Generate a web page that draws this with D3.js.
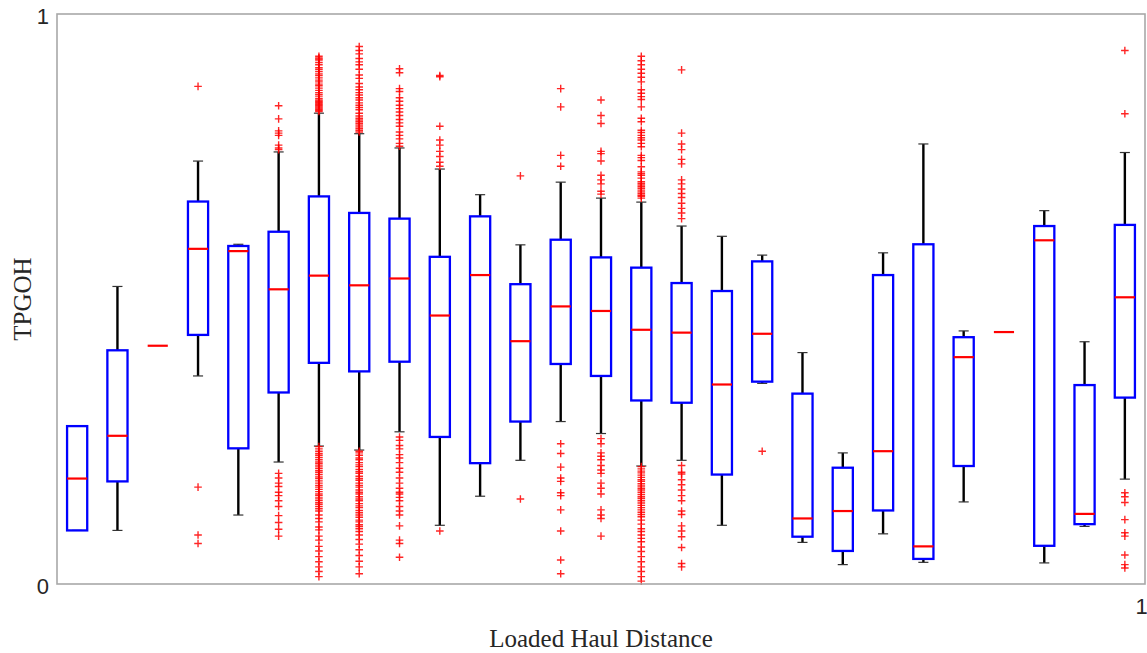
<!DOCTYPE html>
<html>
<head>
<meta charset="utf-8">
<script src="https://cdn.jsdelivr.net/npm/d3@7"></script>
<style>
  html, body { margin: 0; padding: 0; background: #fff; }
  svg { display: block; }
</style>
</head>
<body>
<svg id="chart" width="1147" height="653"></svg>
<script>
// Box plot of TPGOH by loaded haul distance group (27 groups)
const groups = d3.range(1, 28);

const lowerWhisker = [0.094, 0.094, 0.418, 0.365, 0.121, 0.214, 0.242, 0.235, 0.267, 0.103, 0.154, 0.217, 0.285, 0.264,
                      0.207, 0.217, 0.103, 0.352, 0.073, 0.034, 0.088, 0.038, 0.144, 0.442, 0.037, 0.101, 0.184];
const q1 = [0.094, 0.180, 0.418, 0.437, 0.238, 0.336, 0.388, 0.373, 0.390, 0.258, 0.212, 0.285, 0.386, 0.365,
            0.322, 0.318, 0.192, 0.355, 0.083, 0.058, 0.129, 0.044, 0.207, 0.442, 0.067, 0.105, 0.327];
const median = [0.185, 0.260, 0.418, 0.588, 0.584, 0.517, 0.541, 0.524, 0.536, 0.471, 0.542, 0.426, 0.487, 0.479,
                0.446, 0.441, 0.350, 0.439, 0.115, 0.128, 0.233, 0.066, 0.398, 0.442, 0.603, 0.123, 0.503];
const q3 = [0.277, 0.410, 0.418, 0.671, 0.593, 0.618, 0.680, 0.651, 0.641, 0.574, 0.645, 0.526, 0.604, 0.573,
            0.555, 0.528, 0.514, 0.566, 0.334, 0.204, 0.542, 0.596, 0.433, 0.442, 0.628, 0.349, 0.630];
const upperWhisker = [0.277, 0.522, 0.418, 0.742, 0.596, 0.758, 0.826, 0.790, 0.765, 0.728, 0.683, 0.595, 0.705, 0.677,
                      0.670, 0.628, 0.610, 0.577, 0.406, 0.230, 0.581, 0.772, 0.444, 0.442, 0.655, 0.425, 0.757];

const outliers = [
  [],
  [],
  [],
  [0.873, 0.170, 0.086, 0.071],
  [],
  [0.839, 0.816, 0.795, 0.791, 0.787, 0.770, 0.765, 0.762,
   0.194, 0.186, 0.177, 0.171, 0.161, 0.155, 0.146, 0.136, 0.120, 0.108, 0.096, 0.084],
  [0.926, 0.923, 0.921, 0.919, 0.915, 0.911, 0.906, 0.903, 0.899, 0.895, 0.892, 0.888, 0.884, 0.881, 0.877, 0.874,
   0.870, 0.866, 0.862, 0.859, 0.856, 0.852, 0.849, 0.847, 0.845, 0.843, 0.841, 0.839, 0.837, 0.835, 0.833, 0.831, 0.829,
   0.241, 0.237, 0.233, 0.229, 0.226, 0.222, 0.218, 0.214, 0.211, 0.207, 0.203, 0.199, 0.196, 0.192, 0.188, 0.185,
   0.181, 0.177, 0.173, 0.170, 0.166, 0.162, 0.158, 0.155, 0.151, 0.147, 0.143, 0.140, 0.136, 0.132, 0.128, 0.121,
   0.115, 0.109, 0.100, 0.095, 0.084, 0.077, 0.066, 0.058, 0.048, 0.039, 0.030, 0.022, 0.013],
  [0.943, 0.936, 0.930, 0.922, 0.916, 0.911, 0.903, 0.893, 0.887, 0.878, 0.872, 0.867, 0.862, 0.858, 0.853, 0.849,
   0.844, 0.840, 0.836, 0.832, 0.826, 0.821, 0.817, 0.814, 0.811, 0.808, 0.805, 0.802, 0.799, 0.796, 0.793,
   0.233, 0.230, 0.226, 0.221, 0.218, 0.213, 0.209, 0.206, 0.201, 0.197, 0.194, 0.189, 0.185, 0.182, 0.177, 0.173,
   0.170, 0.165, 0.161, 0.158, 0.153, 0.149, 0.146, 0.141, 0.137, 0.134, 0.129, 0.125, 0.121, 0.117, 0.112, 0.109,
   0.104, 0.101, 0.097, 0.092, 0.086, 0.078, 0.070, 0.060, 0.050, 0.040, 0.030, 0.018],
  [0.904, 0.897, 0.869, 0.864, 0.853, 0.847, 0.840, 0.834, 0.828, 0.822, 0.815, 0.809, 0.803, 0.793, 0.787, 0.781,
   0.773, 0.768, 0.258, 0.252, 0.243, 0.237, 0.227, 0.221, 0.213, 0.203, 0.196, 0.186, 0.177, 0.168, 0.161, 0.158,
   0.152, 0.146, 0.136, 0.128, 0.121, 0.102, 0.077, 0.071, 0.047],
  [0.892, 0.890, 0.803, 0.779, 0.770, 0.759, 0.750, 0.740, 0.733, 0.093],
  [],
  [0.716, 0.149],
  [0.869, 0.837, 0.752, 0.733, 0.246, 0.229, 0.205, 0.186, 0.180, 0.160, 0.155, 0.130, 0.093, 0.042, 0.018],
  [0.849, 0.822, 0.808, 0.759, 0.755, 0.742, 0.717, 0.709, 0.702, 0.689, 0.684,
   0.255, 0.246, 0.230, 0.224, 0.218, 0.208, 0.200, 0.194, 0.177, 0.168, 0.158, 0.130, 0.121, 0.115, 0.084],
  [0.926, 0.918, 0.911, 0.903, 0.896, 0.889, 0.881, 0.867, 0.861, 0.855, 0.850, 0.837, 0.817, 0.811, 0.796, 0.792,
   0.787, 0.783, 0.779, 0.773, 0.767, 0.752, 0.748, 0.743, 0.732, 0.723, 0.720, 0.717, 0.712, 0.706, 0.703, 0.700,
   0.697, 0.694, 0.691, 0.688, 0.685, 0.682, 0.680, 0.677,
   0.206, 0.202, 0.198, 0.195, 0.191, 0.187, 0.183, 0.180, 0.176, 0.172, 0.168, 0.165, 0.161, 0.157, 0.153, 0.150,
   0.146, 0.142, 0.138, 0.134, 0.130, 0.126, 0.122, 0.118, 0.112, 0.105, 0.097, 0.092, 0.086, 0.080, 0.074, 0.065,
   0.057, 0.048, 0.039, 0.030, 0.022, 0.013, 0.005],
  [0.902, 0.791, 0.772, 0.762, 0.745, 0.737, 0.709, 0.702, 0.693, 0.685, 0.678, 0.668, 0.659, 0.651, 0.641,
   0.208, 0.196, 0.193, 0.183, 0.174, 0.165, 0.155, 0.146, 0.128, 0.122, 0.102, 0.093, 0.083, 0.064, 0.036, 0.030],
  [],
  [0.233],
  [], [], [], [], [], [], [], [],
  [0.936, 0.825, 0.160, 0.153, 0.143, 0.113, 0.090, 0.084, 0.051, 0.034, 0.028]
];

const yTicks = [0, 1];
const xTicks = [1];
const xTitle = "Loaded Haul Distance";
const yTitle = "TPGOH";

const svg = d3.select("#chart");
const plotLeft = 57, plotRight = 1145, plotTop = 14, plotBottom = 584;

const x = d3.scaleLinear().domain([0.5, groups.length + 0.5]).range([plotLeft, plotRight]);
const y = d3.scaleLinear().domain([0, 1]).range([plotBottom, plotTop]);
const xLabelScale = d3.scaleLinear().domain([0, 1]).range([plotLeft, plotRight]);

const halfBox = 0.25, halfCap = 0.125;

const rows = groups.map((g, i) => ({
  g, lo: lowerWhisker[i], q1: q1[i], med: median[i], q3: q3[i], hi: upperWhisker[i], out: outliers[i]
}));

// whiskers and caps
const wg = svg.append("g").attr("stroke", "#000").attr("fill", "none");
rows.forEach(d => {
  if (d.q3 === d.q1) return;
  wg.append("line").attr("x1", x(d.g)).attr("x2", x(d.g)).attr("y1", y(d.q3)).attr("y2", y(d.hi)).attr("stroke-width", 2.4);
  wg.append("line").attr("x1", x(d.g)).attr("x2", x(d.g)).attr("y1", y(d.q1)).attr("y2", y(d.lo)).attr("stroke-width", 2.4);
  wg.append("line").attr("x1", x(d.g - halfCap)).attr("x2", x(d.g + halfCap)).attr("y1", y(d.hi)).attr("y2", y(d.hi))
    .attr("stroke", "#333").attr("stroke-width", 1.2);
  wg.append("line").attr("x1", x(d.g - halfCap)).attr("x2", x(d.g + halfCap)).attr("y1", y(d.lo)).attr("y2", y(d.lo))
    .attr("stroke", "#333").attr("stroke-width", 1.2);
});

// boxes
svg.append("g").selectAll("rect")
  .data(rows.filter(d => d.q3 > d.q1))
  .join("rect")
  .attr("x", d => x(d.g - halfBox))
  .attr("width", d => x(d.g + halfBox) - x(d.g - halfBox))
  .attr("y", d => y(d.q3))
  .attr("height", d => y(d.q1) - y(d.q3))
  .attr("fill", "none")
  .attr("stroke", "#0000ff")
  .attr("stroke-width", 2.3);

// medians
svg.append("g").selectAll("line")
  .data(rows)
  .join("line")
  .attr("x1", d => x(d.g - halfBox))
  .attr("x2", d => x(d.g + halfBox))
  .attr("y1", d => y(d.med))
  .attr("y2", d => y(d.med))
  .attr("stroke", "#ff0000")
  .attr("stroke-width", 2.2);

// outliers as '+' markers
const s = 3.8;
const pts = rows.flatMap(d => d.out.map(v => ({ g: d.g, v })));
svg.append("g").selectAll("path")
  .data(pts)
  .join("path")
  .attr("d", d => {
    const cx = x(d.g), cy = y(d.v);
    return `M${cx - s},${cy}H${cx + s}M${cx},${cy - s}V${cy + s}`;
  })
  .attr("stroke", "#ff0000")
  .attr("stroke-opacity", 0.85)
  .attr("stroke-width", 1.4)
  .attr("fill", "none");

// frame
svg.append("rect")
  .attr("x", plotLeft).attr("y", plotTop)
  .attr("width", plotRight - plotLeft).attr("height", plotBottom - plotTop)
  .attr("fill", "none").attr("stroke", "#a8a8a8").attr("stroke-width", 1.6);

// y axis labels
const yAxis = d3.axisLeft(y).tickValues(yTicks).tickSize(0).tickPadding(8).tickFormat(d3.format("d"));
const ya = svg.append("g").attr("transform", `translate(${plotLeft},0)`).call(yAxis);
ya.select(".domain").remove();
ya.selectAll("text")
  .attr("dy", "0.45em")
  .style("font-family", "'Liberation Sans', Arial, sans-serif")
  .style("font-size", "22px")
  .attr("fill", "#262626");

// x axis labels
const xAxis = d3.axisBottom(xLabelScale).tickValues(xTicks).tickSize(0).tickPadding(14).tickFormat(d3.format("d"));
const xa = svg.append("g").attr("transform", `translate(0,${plotBottom})`).call(xAxis);
xa.select(".domain").remove();
xa.selectAll("text")
  .attr("dx", "-4")
  .style("font-family", "'Liberation Sans', Arial, sans-serif")
  .style("font-size", "22px")
  .attr("fill", "#262626");

// titles
svg.append("text")
  .attr("x", (plotLeft + plotRight) / 2)
  .attr("y", 647)
  .attr("text-anchor", "middle")
  .style("font-family", "'Liberation Serif', 'Times New Roman', serif")
  .style("font-size", "25px")
  .attr("fill", "#262626")
  .text(xTitle);

svg.append("text")
  .attr("transform", `translate(31,${(plotTop + plotBottom) / 2}) rotate(-90)`)
  .attr("text-anchor", "middle")
  .style("font-family", "'Liberation Serif', 'Times New Roman', serif")
  .style("font-size", "25px")
  .attr("fill", "#262626")
  .text(yTitle);
</script>
</body>
</html>
